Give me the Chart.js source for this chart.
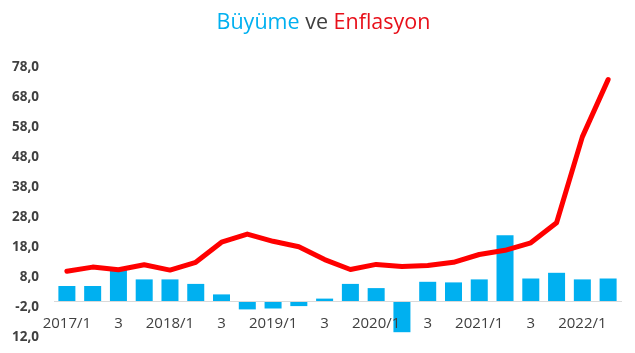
<!DOCTYPE html>
<html>
<head>
<meta charset="utf-8">
<script src="https://cdn.jsdelivr.net/npm/chart.js@4"></script>
<style>
  html, body { margin: 0; padding: 0; background: #fff; }
  #wrap { position: relative; width: 635px; height: 353px; }
  #title { position: absolute; left: 0; top: 6px; width: 635px; padding-left: 12px; box-sizing: border-box;
           text-align: center; font-family: "Open Sans", sans-serif; font-size: 21.5px; line-height: 30px; }
  canvas { position: absolute; left: 0; top: 0; }
</style>
</head>
<body>
<div id="wrap">
  <canvas id="c" width="635" height="353"></canvas>
  <div id="title"><span style="color:#00B0F0">Büyüme</span> <span style="color:#404040">ve</span> <span style="color:#E8101A">Enflasyon</span></div>
</div>
<script>
const categories = ["2017/1","2017/2","2017/3","2017/4","2018/1","2018/2","2018/3","2018/4",
  "2019/1","2019/2","2019/3","2019/4","2020/1","2020/2","2020/3","2020/4",
  "2021/1","2021/2","2021/3","2021/4","2022/1","2022/2"];
const tickLabels = ["2017/1","","3","","2018/1","","3","","2019/1","","3","",
  "2020/1","","3","","2021/1","","3","","2022/1",""];
const growth = [5.0, 5.0, 10.6, 7.2, 7.2, 5.7, 2.2, -2.8, -2.5, -1.7, 0.8, 5.7,
  4.3, -10.4, 6.4, 6.2, 7.2, 21.9, 7.5, 9.4, 7.2, 7.5];
const inflation = [9.9, 11.3, 10.4, 12.1, 10.3, 12.9, 19.6, 22.3, 19.9, 18.1, 13.8, 10.5,
  12.2, 11.5, 11.8, 12.9, 15.5, 16.9, 19.4, 26.1, 54.7, 73.8];
const yTicks = [-12, -2, 8, 18, 28, 38, 48, 58, 68, 78];

new Chart(document.getElementById('c'), {
  data: {
    labels: categories,
    datasets: [
      { type: 'line', label: 'Enflasyon', data: inflation, borderColor: '#FF0000', borderWidth: 5,
        pointRadius: 0, tension: 0, order: 0, borderCapStyle: 'round', borderJoinStyle: 'round' },
      { type: 'bar', label: 'Büyüme', data: growth, backgroundColor: '#00B0F0',
        barPercentage: 0.66, categoryPercentage: 1, order: 1 }
    ]
  },
  options: {
    responsive: false,
    animation: false,
    layout: { padding: { top: 67, left: 12, right: 14, bottom: 16 } },
    plugins: { legend: { display: false }, tooltip: { enabled: false }, title: { display: false } },
    scales: {
      x: {
        position: { y: 0 },
        grid: { display: false, drawTicks: false },
        border: { display: true, color: '#D9D9D9', width: 1, z: 1 },
        ticks: {
          z: 1,
          autoSkip: false, maxRotation: 0, minRotation: 0, padding: 14,
          color: '#404040', font: { family: 'Open Sans', size: 15 },
          callback: (v, i) => tickLabels[i]
        }
      },
      y: {
        min: -12, max: 78,
        afterBuildTicks: s => { s.ticks = yTicks.map(v => ({ value: v })); },
        afterFit: s => { s.width = 42; s.paddingTop = 0; s.paddingBottom = 0; },
        grid: { display: false, drawTicks: false },
        border: { display: false },
        ticks: {
          padding: 15, color: '#404040', font: { family: 'Open Sans', size: 13.5, weight: 'bold' },
          callback: v => v.toFixed(1).replace('.', ',')
        }
      }
    }
  }
});
</script>
</body>
</html>
